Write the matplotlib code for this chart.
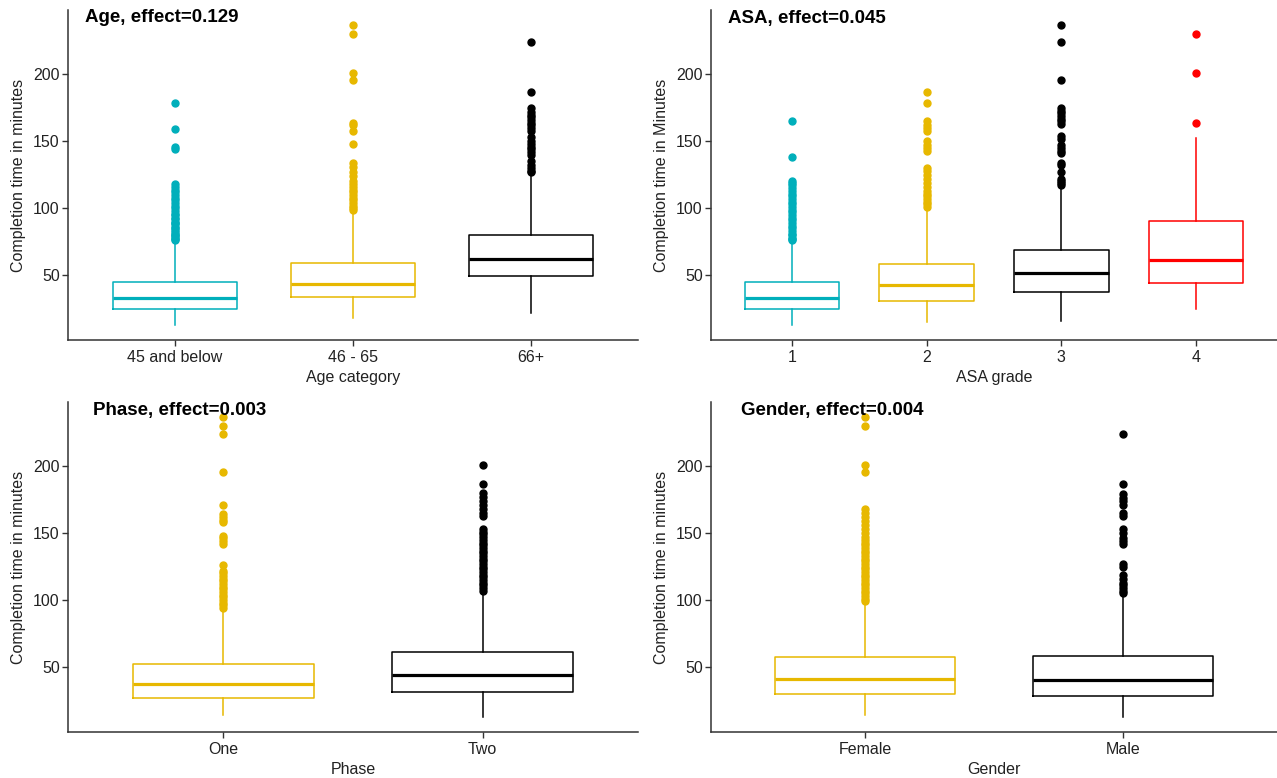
import matplotlib
matplotlib.use("Agg")
import matplotlib.pyplot as plt

plt.rcParams['font.family'] = ['Liberation Sans Narrow', 'Liberation Sans', 'DejaVu Sans']

CYAN = '#00AFBB'
YELLOW = '#E7B800'
BLACK = '#000000'
RED = '#FF0000'

# ---- Age ----
age_labels = ['45 and below', '46 - 65', '66+']
age_colors = [CYAN, YELLOW, BLACK]
age_whislo = [12.7, 18, 21.5]
age_q1 = [24.5, 34, 49]
age_med = [32.7, 43.7, 61.8]
age_q3 = [45, 59.3, 80]
age_whishi = [74, 96.6, 125.4]
age_out_1 = [76, 77, 78, 79, 80, 81, 82, 84, 85, 86, 88, 89, 90, 92, 93, 95, 96,
             98, 100, 102, 104, 106, 108, 110, 112, 114, 116, 118, 144, 146, 159, 179]
age_out_2 = [99, 100, 102, 104, 106, 108, 110, 112, 114, 116, 118, 120, 124, 127,
             131, 134, 148, 158, 162, 164, 196, 201, 230, 237]
age_out_3 = [127, 128, 130, 132, 135, 140, 142, 144, 146, 148, 150, 153, 158, 160,
             162, 164, 166, 168, 170, 172, 175, 187, 224]
age_out = [age_out_1, age_out_2, age_out_3]

# ---- ASA ----
asa_labels = ['1', '2', '3', '4']
asa_colors = [CYAN, YELLOW, BLACK, RED]
asa_whislo = [12.7, 14.7, 15.7, 24.7]
asa_q1 = [24.5, 31, 37, 44]
asa_med = [32.7, 42.7, 51.5, 61]
asa_q3 = [45, 58.5, 69, 90.3]
asa_whishi = [74, 99.6, 115.4, 152.4]
asa_out_1 = [76, 77, 78, 80, 81, 83, 85, 87, 89, 91, 93, 95, 97, 99, 101, 103,
             105, 107, 109, 111, 113, 115, 117, 119, 120, 138, 165]
asa_out_2 = [101, 103, 105, 107, 109, 111, 113, 116, 119, 122, 125, 128, 130,
             143, 145, 147, 150, 158, 160, 162, 165, 179, 187]
asa_out_3 = [117, 119, 120, 122, 127, 132, 134, 141, 143, 145, 147, 152, 154,
             163, 165, 167, 169, 171, 173, 175, 196, 224, 237]
asa_out_4 = [164, 201, 230]
asa_out = [asa_out_1, asa_out_2, asa_out_3, asa_out_4]

# ---- Phase ----
phase_labels = ['One', 'Two']
phase_colors = [YELLOW, BLACK]
phase_whislo = [13.6, 12.3]
phase_q1 = [26.9, 31]
phase_med = [36.7, 43.7]
phase_q3 = [52, 61]
phase_whishi = [92.7, 106.5]
phase_out_1 = [94, 96, 98, 100, 102, 104, 106, 108, 110, 112, 114, 116, 118, 120,
               122, 126, 142, 144, 146, 148, 158, 160, 162, 164, 171, 196, 224, 230, 237]
phase_out_2 = [107, 109, 111, 113, 115, 117, 119, 121, 123, 125, 127, 129, 131,
               133, 135, 137, 139, 141, 143, 145, 147, 149, 151, 153, 163, 165,
               168, 171, 174, 177, 180, 187, 201]
phase_out = [phase_out_1, phase_out_2]

# ---- Gender ----
gender_labels = ['Female', 'Male']
gender_colors = [YELLOW, BLACK]
gender_whislo = [13.6, 12.3]
gender_q1 = [29.4, 27.9]
gender_med = [40.5, 39.7]
gender_q3 = [57, 57.8]
gender_whishi = [97.7, 105.3]
gender_out_1 = [99, 101, 103, 105, 107, 109, 111, 113, 115, 117, 119, 121, 123,
                125, 127, 129, 131, 133, 135, 137, 139, 141, 143, 145, 147, 150,
                153, 156, 159, 162, 165, 168, 196, 201, 230, 237]
gender_out_2 = [105, 107, 109, 111, 113, 116, 119, 125, 127, 142, 144, 146, 150,
                153, 163, 165, 171, 174, 176, 179, 187, 224]
gender_out = [gender_out_1, gender_out_2]

panels = [
    ('Age, effect=0.129', 'Age category', 'Completion time in minutes',
     age_labels, age_colors, age_whislo, age_q1, age_med, age_q3, age_whishi, age_out),
    ('ASA, effect=0.045', 'ASA grade', 'Completion time in Minutes',
     asa_labels, asa_colors, asa_whislo, asa_q1, asa_med, asa_q3, asa_whishi, asa_out),
    ('Phase, effect=0.003', 'Phase', 'Completion time in minutes',
     phase_labels, phase_colors, phase_whislo, phase_q1, phase_med, phase_q3, phase_whishi, phase_out),
    ('Gender, effect=0.004', 'Gender', 'Completion time in minutes',
     gender_labels, gender_colors, gender_whislo, gender_q1, gender_med, gender_q3, gender_whishi, gender_out),
]

W, H = 1277, 778
fig = plt.figure(figsize=(W / 100, H / 100), dpi=100)

# axes boxes in pixels: left, top, right, bottom
boxes = [(68, 10, 638, 340), (711, 10, 1277, 340),
         (68, 402, 638, 732), (711, 402, 1277, 732)]
title_pos = [(85, 18), (728, 18), (93, 410), (741, 410)]

for (title, xlab, ylab, labels, colors, wlo, q1, med, q3, whi, outs), box, tp in zip(panels, boxes, title_pos):
    l, t, r, b = box
    ax = fig.add_axes([l / W, 1 - b / H, (r - l) / W, (b - t) / H])
    n = len(labels)
    for i in range(n):
        st = [dict(med=med[i], q1=q1[i], q3=q3[i], whislo=wlo[i], whishi=whi[i],
                   fliers=outs[i])]
        c = colors[i]
        ax.bxp(st, positions=[i + 1], widths=0.7, showcaps=False,
               boxprops=dict(color=c, linewidth=1.1),
               whiskerprops=dict(color=c, linewidth=1.1),
               medianprops=dict(color=c, linewidth=2.3),
               flierprops=dict(marker='o', markerfacecolor=c, markeredgecolor=c,
                               markersize=5, linestyle='none'))
    lo = min(wlo)
    hi = max(max(o) for o in outs)
    pad = 0.05 * (hi - lo)
    ax.set_ylim(lo - pad, hi + pad)
    ax.set_xlim(0.4, n + 0.6)
    ax.set_yticks([50, 100, 150, 200])
    ax.set_xticks(range(1, n + 1))
    ax.set_xticklabels(labels)
    for s in ['top', 'right']:
        ax.spines[s].set_visible(False)
    for s in ['left', 'bottom']:
        ax.spines[s].set_color('#333333')
        ax.spines[s].set_linewidth(1.1)
    ax.tick_params(axis='both', length=4, width=1, color='#333333',
                   labelsize=11.5, labelcolor='#222222')
    ax.tick_params(axis='y', pad=2)
    ax.tick_params(axis='x', pad=3)
    ax.set_xlabel(xlab, fontsize=11.5, color='#222222', labelpad=4)
    ax.set_ylabel(ylab, fontsize=11.5, color='#222222', labelpad=5)
    fig.text(tp[0] / W, 1 - tp[1] / H, title, fontsize=13.5, fontweight='bold',
             ha='left', va='center', color='black')

fig.savefig('out.png', dpi=100, facecolor='white')
